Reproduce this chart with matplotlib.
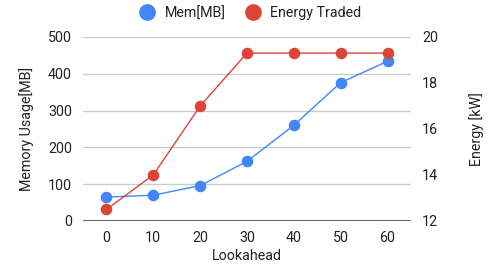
import matplotlib.pyplot as plt
from matplotlib.lines import Line2D

plt.rcParams['font.family'] = ['Roboto', 'DejaVu Sans']

# data
lookahead = [0, 10, 20, 30, 40, 50, 60]
mem_mb = [65, 70, 96, 162, 260, 376, 434]
energy_kw = [12.5, 14.0, 17.0, 19.3, 19.3, 19.3, 19.3]

blue = '#4285F4'
red = '#DB4437'
txt = '#222222'
fs = 10.3

fig = plt.figure(figsize=(4.94, 2.64), dpi=100)
ax1 = fig.add_axes([0.168, 0.163, 0.664, 0.697])
ax2 = ax1.twinx()

ax1.plot(lookahead, mem_mb, color=blue, lw=1, marker='o', ms=7.3, zorder=3)
ax2.plot(lookahead, energy_kw, color=red, lw=1, marker='o', ms=7.3, zorder=3)

ax1.set_xlim(-5, 65)
ax1.set_ylim(0, 500)
ax2.set_ylim(12, 20)
ax1.set_xticks(lookahead)
ax1.set_yticks([0, 100, 200, 300, 400, 500])
ax2.set_yticks([12, 14, 16, 18, 20])

ax1.grid(axis='y', color='#cccccc', lw=1)
ax1.set_axisbelow(True)
for ax in (ax1, ax2):
    for s in ('top', 'left', 'right', 'bottom'):
        ax.spines[s].set_visible(False)
    ax.tick_params(length=0, labelsize=fs, colors=txt)
ax1.axhline(0, color='#666666', lw=1.5, zorder=2)
ax1.tick_params(axis='y', pad=8)
ax2.tick_params(axis='y', pad=8)
ax1.tick_params(axis='x', pad=7)

ax1.set_xlabel('Lookahead', fontsize=fs, color=txt, labelpad=3)
ax1.set_ylabel('Memory Usage[MB]', fontsize=fs, color=txt, labelpad=10)
ax2.set_ylabel('Energy [kW]', fontsize=fs, color=txt, labelpad=22)

handles = [Line2D([], [], ls='none', marker='o', ms=11, color=blue),
           Line2D([], [], ls='none', marker='o', ms=11, color=red)]
fig.legend(handles, ['Mem[MB]', 'Energy Traded'], loc='upper center',
           bbox_to_anchor=(0.5, 1.025), ncol=2, frameon=False, fontsize=fs,
           handletextpad=0.2, columnspacing=0.9, labelcolor=txt)

fig.savefig('out.png', dpi=100)
